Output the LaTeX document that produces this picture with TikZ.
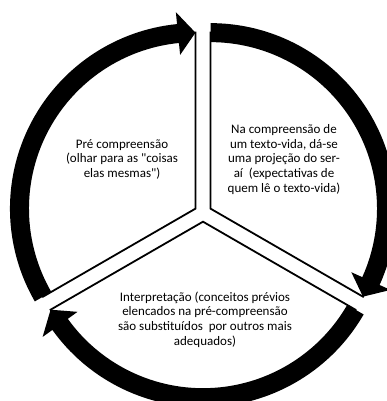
\documentclass[tikz,border=0pt]{standalone}
\usepackage{fontspec}
\setmainfont{Carlito}[Ligatures=TeXOff]
\usetikzlibrary{calc}
\begin{document}
\begin{tikzpicture}[x=1pt,y=1pt,
  sector/.style={draw=black, line width=1.8pt, fill=white, line join=miter},
  band/.style={fill=black},
  lbl/.style={align=center, font=\fontsize{13}{14.6}\selectfont, inner sep=0pt}]
\clip (0,0) rectangle (387,401);
\fill[white] (0,0) rectangle (387,401);
\coordinate (L) at (195.47,192.35);
\coordinate (R) at (210.53,192.35);
\coordinate (B) at (203,179.3);
% left sector
\draw[sector] (L) -- ($(L)+(90:176)$) arc[start angle=90,end angle=210,radius=176] -- cycle;
\fill[band] ($(L)+(210:185.5)$) arc[start angle=210,end angle=95.7,radius=185.5]
  -- ($(L)+(95.7:197.5)$) -- ($(L)+(90:176)$) -- ($(L)+(95.7:154.5)$)
  -- ($(L)+(95.7:166.5)$) arc[start angle=95.7,end angle=210,radius=166.5] -- cycle;
% right sector
\draw[sector] (R) -- ($(R)+(90:176)$) arc[start angle=90,end angle=-30,radius=176] -- cycle;
\fill[band] ($(R)+(90:185.5)$) arc[start angle=90,end angle=-24.3,radius=185.5]
  -- ($(R)+(-24.3:197.5)$) -- ($(R)+(-30:176)$) -- ($(R)+(-24.3:154.5)$)
  -- ($(R)+(-24.3:166.5)$) arc[start angle=-24.3,end angle=90,radius=166.5] -- cycle;
% bottom sector
\draw[sector] (B) -- ($(B)+(-30:176)$) arc[start angle=-30,end angle=-150,radius=176] -- cycle;
\fill[band] ($(B)+(-30:185.5)$) arc[start angle=-30,end angle=-144.3,radius=185.5]
  -- ($(B)+(-144.3:197.5)$) -- ($(B)+(-150:176)$) -- ($(B)+(-144.3:154.5)$)
  -- ($(B)+(-144.3:166.5)$) arc[start angle=-144.3,end angle=-30,radius=166.5] -- cycle;
% texts
\node[lbl] (tl) at (122,241.7) {Pré compreensão\\(olhar para as "coisas\\elas mesmas")};
\node[lbl] (tr) at (284,241.5) {Na compreensão de\\um texto-vida, dá-se\\uma projeção do ser-\\aí\ \ (expectativas de\\quem lê o texto-vida)};
\node[lbl] (tb) at (205,81.5) {Interpretação (conceitos prévios\\elencados na pré-compreensão\\são substituídos\ \ por outros mais\\adequados)};
\end{tikzpicture}
\end{document}
